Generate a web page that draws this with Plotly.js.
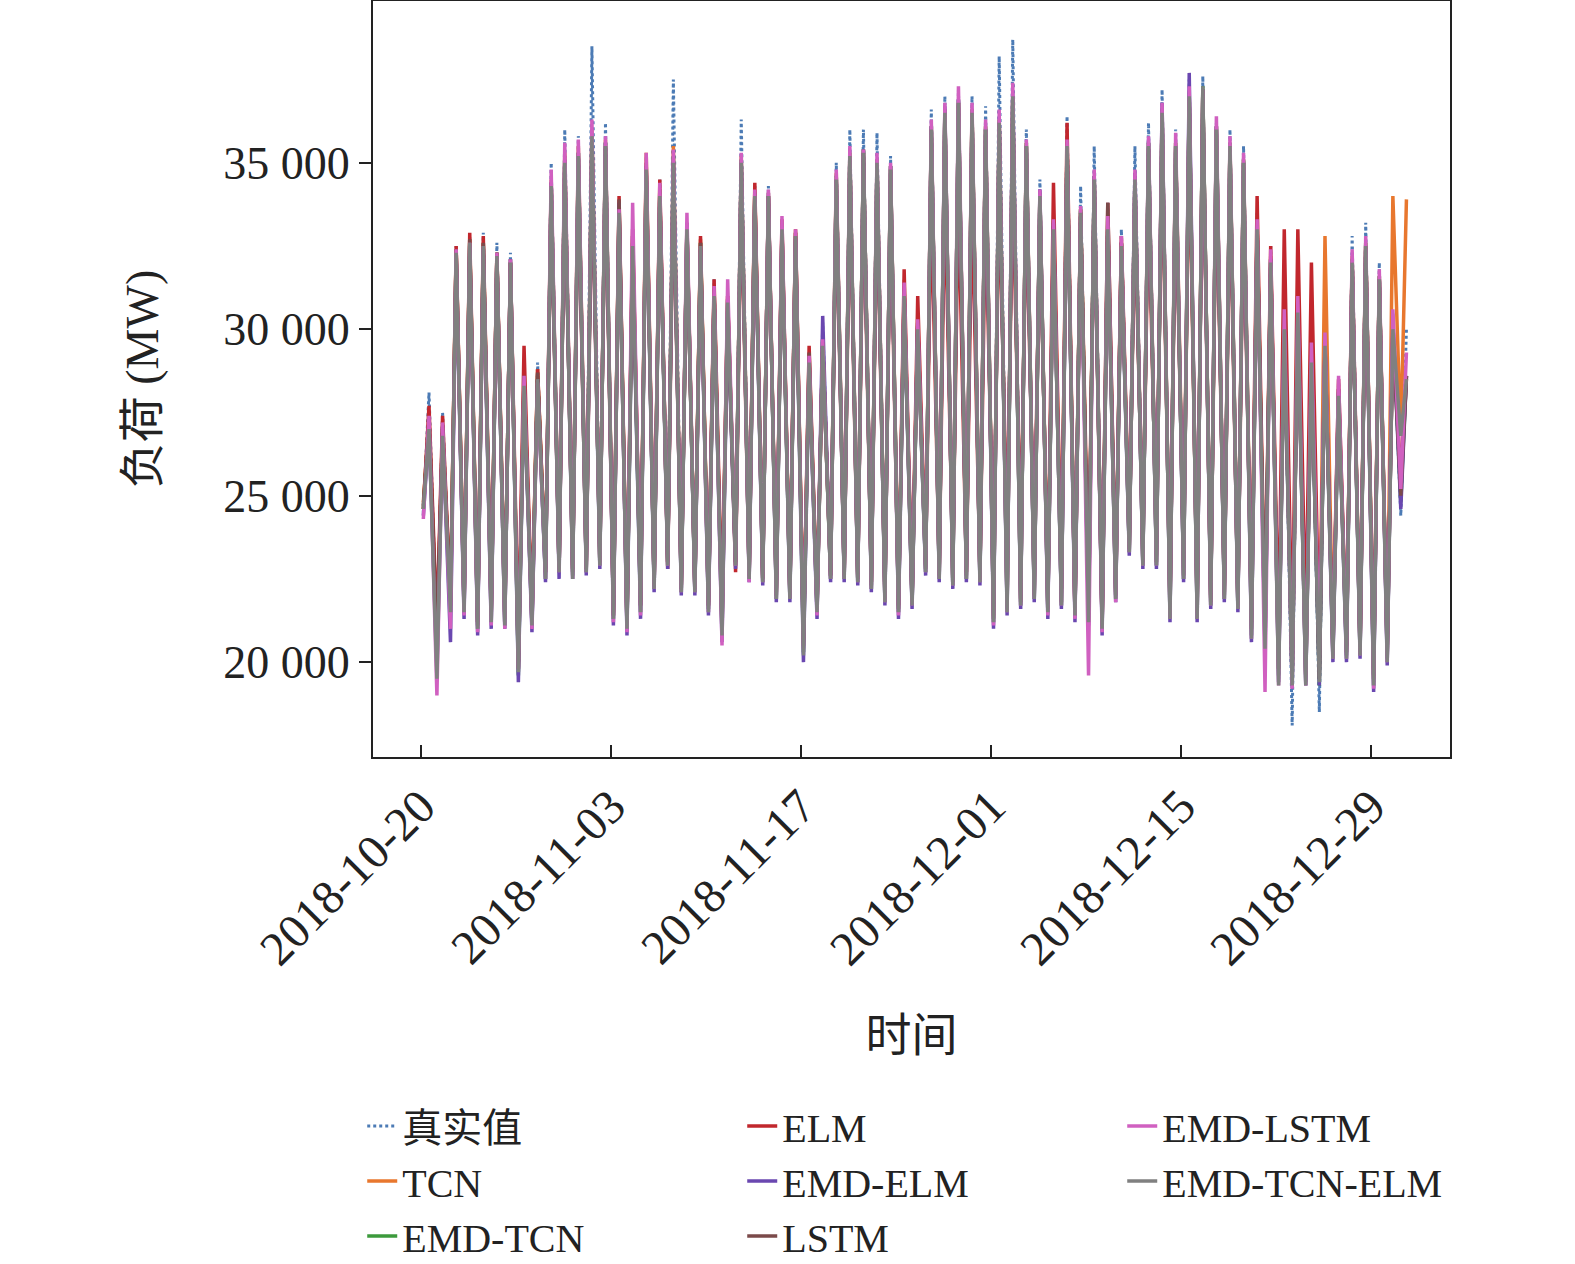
<!DOCTYPE html>
<html><head><meta charset="utf-8">
<script src="https://cdn.plot.ly/plotly-3.0.1.min.js"></script>
<style>body{margin:0;background:#fff}#chart{width:1575px;height:1264px}</style>
</head><body><div id="chart"></div>
<script>
// daily peak / trough loads (thousand MW), 2018-10-20 .. 2019-01-01
var startDay = '2018-10-20';
var truePeak = [28.1,27.5,32.5,32.8,32.9,32.6,32.3,28.8,29.0,35.0,36.0,35.8,38.5,36.2,33.5,33.0,35.2,34.5,37.5,33.0,32.8,31.5,31.0,36.3,34.3,34.3,33.2,33.0,29.0,30.2,35.0,36.0,36.0,35.9,35.2,31.5,30.5,36.6,37.0,37.2,37.0,36.7,38.2,38.7,36.0,34.5,33.5,36.4,34.3,35.5,33.8,33.0,35.5,36.2,37.2,36.0,37.5,37.6,36.2,36.0,35.5,33.5,32.5,30.5,31.0,29.5,30.0,28.5,32.8,33.2,32.0,30.5,30.0];
var trueLow = [24.5,20.6,21.6,21.6,21.0,21.3,21.2,19.6,21.1,22.6,22.8,22.6,22.8,23.0,21.3,21.0,21.6,22.3,23.0,22.2,22.2,21.6,20.8,23.0,22.6,22.5,22.0,22.0,20.2,21.5,22.6,22.6,22.5,22.3,21.9,21.5,21.8,22.8,22.6,22.4,22.6,22.5,21.2,21.6,21.8,22.0,21.5,21.8,21.4,21.3,21.0,22.0,23.4,23.0,23.0,21.4,22.6,21.4,21.8,22.0,21.7,20.9,20.6,19.5,18.1,19.5,18.5,20.2,20.2,20.3,19.2,20.1,24.4];
var tcnPeak = [27.3,27.0,32.4,32.7,32.6,32.3,32.0,28.5,28.8,34.5,35.3,35.5,36.0,35.7,33.8,32.8,35.3,34.2,35.5,33.2,32.7,31.2,31.0,35.2,34.2,34.1,33.1,32.9,29.1,29.7,34.7,35.3,35.4,35.1,34.9,31.2,30.2,36.1,36.6,36.8,36.6,36.1,36.3,37.0,35.6,34.1,33.2,35.6,33.6,34.6,33.2,32.6,34.6,35.6,36.6,35.6,37.0,37.2,36.1,35.6,35.1,33.1,32.2,30.2,30.6,29.2,32.8,28.2,32.2,32.6,31.6,34.0,33.9];
var tcnLow = [24.8,20.8,21.8,21.8,21.2,21.5,21.4,20.0,21.4,22.8,22.9,22.8,23.0,23.0,21.5,21.2,21.8,22.4,23.0,22.3,22.3,21.8,21.1,23.0,22.7,22.6,22.1,22.1,20.7,21.7,22.7,22.7,22.6,22.4,22.0,21.7,21.9,22.9,22.7,22.5,22.7,22.6,21.4,21.8,21.9,22.1,21.7,22.6,21.6,21.5,21.2,22.1,23.5,23.2,23.2,21.6,23.2,21.6,21.9,22.1,21.8,21.2,20.8,19.8,19.5,19.6,19.8,20.4,20.4,20.5,19.6,20.3,26.8];
var emdTcnPeak = [27.2,26.9,32.3,32.6,32.5,32.2,32.0,28.4,28.6,34.4,35.1,35.3,35.9,35.6,33.6,32.6,34.9,34.1,35.2,33.1,32.6,31.1,30.9,35.1,34.1,34.0,33.0,32.8,29.0,29.6,34.6,35.3,35.4,35.1,34.9,31.1,30.1,36.1,36.6,36.9,36.6,36.1,36.3,37.0,35.6,34.1,33.1,35.6,33.6,34.6,33.1,32.6,34.6,35.6,36.6,35.6,37.1,37.3,36.1,35.6,35.1,33.1,32.1,30.1,30.6,29.1,29.6,28.1,32.1,32.6,31.6,30.1,28.6];
var emdTcnLow = [24.6,20.4,21.5,21.5,21.0,21.2,21.1,19.6,21.1,22.5,22.7,22.6,22.7,22.9,21.3,21.0,21.5,22.2,22.9,22.1,22.1,21.6,20.8,22.9,22.5,22.4,21.9,21.9,20.3,21.5,22.5,22.5,22.4,22.2,21.8,21.5,21.7,22.7,22.5,22.3,22.5,22.4,21.2,21.6,21.7,21.9,21.5,21.7,21.4,21.3,21.0,21.9,23.3,22.9,22.9,21.3,22.5,21.3,21.7,21.9,21.6,20.8,20.5,19.6,19.3,19.4,19.3,20.2,20.2,20.2,19.3,20.1,24.8];
var elmPeak = [27.7,27.4,32.5,32.9,32.8,32.3,32.0,29.5,28.8,34.0,34.8,34.7,34.9,35.0,34.0,33.0,35.0,34.5,34.5,33.0,32.8,31.5,31.0,34.3,34.4,34.0,33.3,33.0,29.5,29.5,34.0,34.5,34.5,34.2,34.0,31.8,31.0,34.0,34.3,34.2,34.0,33.8,34.3,34.5,33.8,33.5,34.4,36.2,33.5,34.1,33.8,32.8,33.5,34.0,35.5,34.5,36.0,36.5,35.0,34.5,34.0,34.0,32.5,33.0,33.0,32.0,29.5,28.5,32.0,32.5,31.5,30.0,28.5];
var elmLow = [24.6,21.0,21.8,21.7,21.2,21.5,21.4,20.5,21.3,22.7,22.7,22.8,22.8,23.3,21.4,21.2,21.7,22.3,22.8,22.3,22.2,21.7,21.5,22.7,22.6,22.5,22.2,22.1,20.7,21.7,22.6,22.6,22.5,22.4,22.1,21.7,21.9,23.0,22.8,22.9,22.7,22.7,22.7,23.6,23.6,23.2,22.0,22.2,21.4,22.3,21.1,22.2,23.8,23.6,23.7,21.8,23.1,21.8,22.0,22.3,21.9,21.4,21.0,20.6,20.3,20.8,20.4,20.6,20.5,20.4,19.8,20.4,25.5];
var emdElmPeak = [27.0,27.0,32.2,32.5,32.4,32.2,32.1,28.3,28.5,34.4,35.1,35.2,35.6,35.6,33.8,32.4,34.7,34.0,35.1,33.2,32.4,31.0,30.5,35.0,33.9,34.1,33.0,32.7,28.9,30.4,34.5,35.2,35.4,35.0,34.9,31.0,30.1,36.1,36.7,36.9,36.4,36.0,36.2,37.1,35.5,34.2,33.2,35.4,33.4,34.6,33.1,32.4,34.7,35.7,36.8,35.5,37.7,37.2,36.1,35.5,35.0,33.0,32.1,30.0,30.5,29.0,29.5,28.1,32.0,32.4,31.5,30.2,28.6];
var emdElmLow = [24.4,19.8,20.6,21.3,20.8,21.0,21.0,19.4,20.9,22.4,22.5,22.5,22.6,22.8,21.1,20.8,21.3,22.1,22.8,22.0,22.0,21.4,20.6,22.8,22.4,22.3,21.8,21.8,20.0,21.3,22.4,22.4,22.3,22.1,21.7,21.3,21.6,22.6,22.4,22.2,22.4,22.3,21.0,21.4,21.6,21.8,21.3,21.6,21.2,21.1,20.8,21.8,23.2,22.8,22.8,21.2,22.4,21.2,21.6,21.8,21.5,20.6,20.3,19.4,19.2,19.3,19.3,20.0,20.0,20.1,19.1,19.9,24.6];
var lstmPeak = [27.3,27.1,32.4,32.7,32.6,32.3,32.1,28.6,28.7,34.4,35.1,35.3,35.8,35.5,33.9,32.8,34.9,34.2,35.0,33.1,32.6,31.2,30.9,35.0,34.1,34.0,33.1,32.9,29.3,29.6,34.5,35.2,35.3,35.0,34.8,31.2,30.2,36.0,36.5,36.8,36.5,36.0,36.2,36.9,35.5,34.0,33.1,35.5,33.6,34.5,33.8,32.6,34.4,35.4,36.4,35.4,36.9,37.2,36.0,35.5,35.0,33.1,32.1,30.3,30.6,29.2,29.6,28.2,32.0,32.5,31.5,30.0,28.6];
var lstmLow = [24.7,20.7,21.7,21.7,21.1,21.4,21.3,19.8,21.2,22.7,22.8,22.7,22.8,23.0,21.4,21.1,21.7,22.3,23.0,22.2,22.2,21.7,21.0,23.0,22.6,22.5,22.0,22.0,20.5,21.6,22.6,22.6,22.5,22.3,21.9,21.6,21.8,22.8,22.6,22.4,22.6,22.5,21.3,21.7,21.8,22.0,21.6,21.8,21.5,21.4,21.1,22.0,23.4,23.0,23.0,21.5,22.6,21.5,21.8,22.0,21.7,21.0,20.7,19.8,19.6,19.6,19.5,20.3,20.3,20.3,19.5,20.2,25.0];
var emdLstmPeak = [27.4,27.2,32.4,32.6,32.5,32.3,32.1,28.6,28.4,34.8,35.6,35.7,36.3,35.8,33.6,33.8,35.3,34.4,35.4,33.5,32.5,31.3,31.5,35.3,34.2,34.2,33.4,33.0,29.2,29.7,34.8,35.5,35.4,35.3,35.0,31.4,30.3,36.3,36.8,37.3,36.8,36.3,36.6,37.4,35.7,34.2,33.3,35.7,33.7,34.8,33.4,32.8,34.8,35.8,36.8,35.9,37.3,37.2,36.4,35.8,35.3,33.3,32.4,30.6,31.0,29.6,29.9,28.6,32.4,32.8,31.8,30.6,29.3];
var emdLstmLow = [24.3,19.0,21.0,21.4,20.9,21.1,21.0,19.8,21.0,22.5,22.7,22.5,22.7,22.9,21.2,20.9,21.4,22.2,22.9,22.1,22.1,21.5,20.5,22.9,22.4,22.4,21.9,21.9,20.4,21.4,22.5,22.5,22.4,22.2,21.8,21.4,21.7,22.7,22.5,22.3,22.5,22.4,21.1,21.5,21.7,21.9,21.4,21.7,21.3,19.6,20.9,21.8,23.3,22.9,22.9,21.3,22.5,21.3,21.7,21.9,21.6,20.7,19.1,19.3,19.2,19.3,20.1,20.1,20.1,20.2,19.2,20.0,25.2];
var gridPeak = [27.0,26.8,32.3,32.6,32.5,32.2,32.0,28.3,28.5,34.3,35.0,35.2,35.8,35.5,33.5,32.5,34.8,34.0,35.0,33.0,32.5,31.0,30.8,35.0,34.0,34.0,33.0,32.8,29.0,29.5,34.5,35.2,35.3,35.0,34.8,31.0,30.0,36.0,36.5,36.8,36.5,36.0,36.2,37.0,35.5,34.0,33.0,35.5,33.5,34.5,33.0,32.5,34.5,35.5,36.5,35.5,37.0,37.3,36.0,35.5,35.0,33.0,32.0,30.0,30.5,29.0,29.5,28.0,32.0,32.5,31.5,30.0,28.5];
var gridLow = [24.6,19.5,21.5,21.5,21.0,21.2,21.1,19.7,21.1,22.5,22.7,22.5,22.7,22.9,21.3,21.0,21.5,22.2,22.9,22.1,22.1,21.5,20.8,22.9,22.5,22.4,21.9,21.9,20.2,21.5,22.5,22.5,22.4,22.2,21.8,21.5,21.7,22.7,22.5,22.3,22.5,22.4,21.2,21.5,21.7,21.9,21.5,21.7,21.4,21.2,21.0,21.9,23.3,22.9,22.9,21.3,22.5,21.3,21.7,21.9,21.6,20.7,20.4,19.3,19.3,19.3,19.4,20.1,20.1,20.2,19.3,20.0,26.8];

var names = ['真实值','TCN','EMD-TCN','ELM','EMD-ELM','LSTM','EMD-LSTM','EMD-TCN-ELM'];
var colors = ['#4c7bb5','#e8772e','#3c9a3c','#c1272d','#6a47b0','#7b4a4a','#d060c0','#808080'];
var peaks = [truePeak,tcnPeak,emdTcnPeak,elmPeak,emdElmPeak,lstmPeak,emdLstmPeak,gridPeak];
var lows = [trueLow,tcnLow,emdTcnLow,elmLow,emdElmLow,lstmLow,emdLstmLow,gridLow];
var ranks = [1,4,7,2,5,8,3,6]; // legend fills row by row, 3 columns

function series(p, l) {
  var x = [], y = [];
  var t0 = new Date(startDay + 'T00:00:00Z').getTime();
  for (var i = 0; i < p.length; i++) {
    var d = t0 + i * 86400000;
    x.push(new Date(d + 4 * 3600000).toISOString().slice(0, 16));
    y.push(l[i] * 1000);
    x.push(new Date(d + 14 * 3600000).toISOString().slice(0, 16));
    y.push(p[i] * 1000);
  }
  return {x: x, y: y};
}

var data = [0,1,2,3,4,5,6,7].map(function (k) {
  var s = series(peaks[k], lows[k]);
  return {
    type: 'scatter', mode: 'lines', name: names[k], x: s.x, y: s.y,
    legendrank: ranks[k],
    line: {color: colors[k], width: k == 0 ? 3 : 3.5, dash: k == 0 ? 'dot' : 'solid'}
  };
});

var serif = 'Liberation Serif, Times New Roman, serif';
var cjk = 'Liberation Serif, Noto Sans CJK SC, serif';
var layout = {
  width: 1575, height: 1264,
  margin: {l: 373, r: 125, t: 1, b: 507, autoexpand: false},
  paper_bgcolor: '#fff', plot_bgcolor: '#fff',
  font: {family: serif, size: 44, color: '#222'},
  showlegend: true,
  legend: {orientation: 'h', x: -0.01, y: -0.445, xanchor: 'left', yanchor: 'top',
    entrywidth: 335, entrywidthmode: 'pixels', tracegroupgap: 0,
    font: {family: cjk, size: 40, color: '#222'}},
  xaxis: {
    type: 'date', range: ['2018-10-16 11:00', '2019-01-03 19:00'],
    tickvals: ['2018-10-20','2018-11-03','2018-11-17','2018-12-01','2018-12-15','2018-12-29'],
    ticktext: ['2018-10-20','2018-11-03','2018-11-17','2018-12-01','2018-12-15','2018-12-29'],
    tickangle: -45, ticks: 'inside', ticklen: 12, tickwidth: 2, tickcolor: '#222',
    tickfont: {family: serif, size: 48},
    showgrid: false, zeroline: false, showline: true, mirror: true, linecolor: '#222', linewidth: 2,
    title: {text: '时间', font: {family: cjk, size: 46, color: '#222'}, standoff: 45}
  },
  yaxis: {
    range: [17150, 39860],
    tickvals: [20000, 25000, 30000, 35000],
    ticktext: ['20 000', '25 000', '30 000', '35 000'],
    ticks: 'outside', ticklen: 12, tickwidth: 2, tickcolor: '#222',
    tickfont: {family: serif, size: 46},
    showgrid: false, zeroline: false, showline: true, mirror: true, linecolor: '#222', linewidth: 2,
    title: {text: '负荷 (MW)', font: {family: cjk, size: 46, color: '#222'}, standoff: 50}
  }
};

Plotly.newPlot('chart', data, layout, {displayModeBar: false});
</script>
</body></html>
